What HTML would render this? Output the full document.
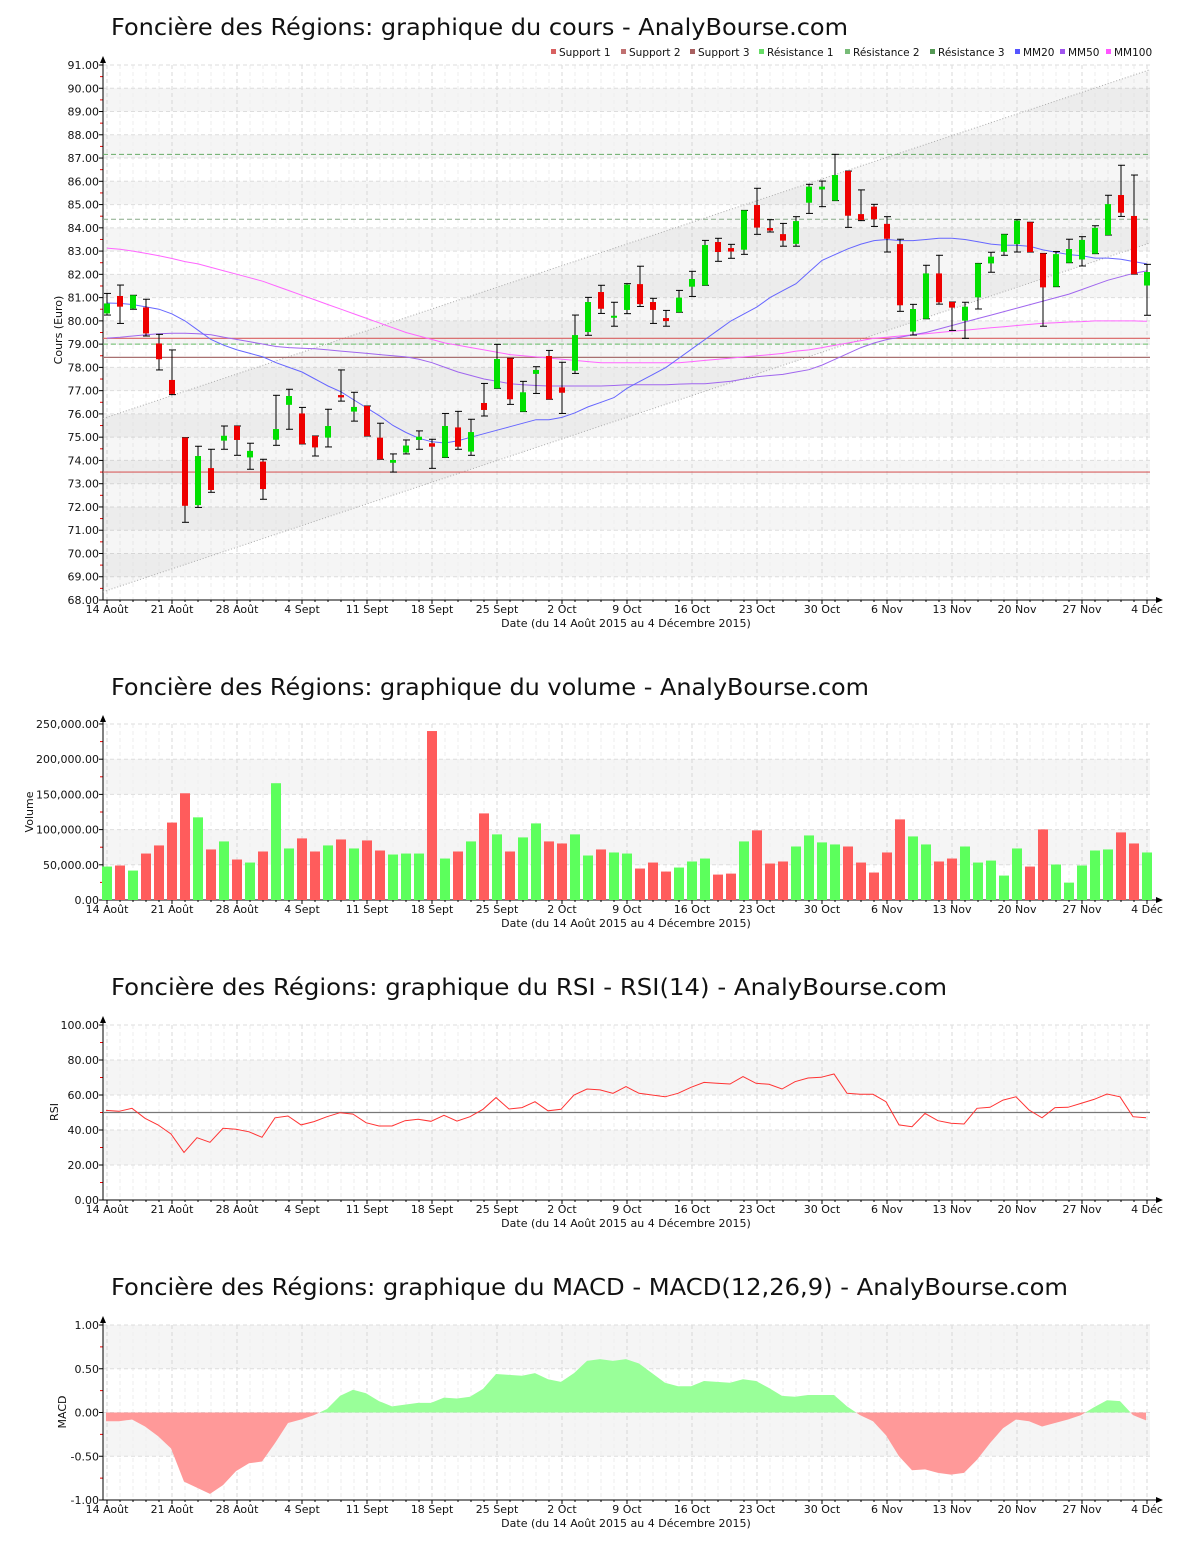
<!DOCTYPE html>
<html><head><meta charset="utf-8"><title>Foncière des Régions - AnalyBourse</title>
<style>
html,body{margin:0;padding:0;background:#fff;}
svg{display:block;font-family:"DejaVu Sans","Liberation Sans",sans-serif;}
</style></head>
<body>
<svg id="chart" width="1200" height="1550" viewBox="0 0 1200 1550" xmlns="http://www.w3.org/2000/svg"></svg>
<script>
// ---------- DATA ----------
const dateLabels = ["14 Août","21 Août","28 Août","4 Sept","11 Sept","18 Sept","25 Sept","2 Oct","9 Oct","16 Oct","23 Oct","30 Oct","6 Nov","13 Nov","20 Nov","27 Nov","4 Déc"];
const openP = [80.32,81.07,80.53,80.58,79.03,77.46,74.98,72.08,73.67,74.85,75.48,74.13,73.95,74.89,76.39,76.02,75.05,74.98,76.81,76.10,76.34,74.98,73.90,74.34,74.88,74.74,74.13,75.42,74.38,76.47,77.10,78.39,76.10,77.72,78.49,77.14,77.86,79.52,81.24,80.14,80.47,81.58,80.81,80.12,80.37,81.47,81.53,83.39,83.13,83.06,84.98,83.99,83.73,83.31,85.08,85.65,85.17,86.44,84.59,84.91,84.17,83.30,79.54,80.09,82.04,80.81,80.01,81.01,82.47,82.97,83.30,84.24,82.90,81.47,82.50,82.64,82.89,83.69,85.41,84.51,81.52];
const closeP = [80.75,80.61,81.10,79.46,78.35,76.86,72.05,74.19,72.73,75.06,74.88,74.41,72.77,75.35,76.77,74.71,74.56,75.48,76.71,76.30,75.05,74.05,74.02,74.64,75.02,74.59,75.48,74.59,75.22,76.17,78.36,76.63,76.93,77.89,76.63,76.91,79.39,80.81,80.52,80.22,81.56,80.72,80.47,79.99,81.00,81.80,83.26,82.96,82.98,84.75,84.01,83.88,83.45,84.29,85.77,85.77,86.27,84.52,84.34,84.37,83.53,80.67,80.51,82.04,80.80,80.57,80.61,82.47,82.76,83.72,84.31,82.96,81.44,82.87,83.09,83.48,84.00,85.02,84.65,82.01,82.10];
const highP = [81.18,81.54,81.10,80.93,79.42,78.75,74.98,74.61,74.48,75.48,75.48,74.74,74.05,76.80,77.06,76.28,75.05,76.20,77.89,76.93,76.34,75.60,74.28,74.88,75.27,74.91,76.02,76.11,75.77,77.31,78.99,78.39,77.40,78.03,78.73,78.22,80.25,81.01,81.53,80.80,81.60,82.35,80.97,80.45,81.31,82.13,83.46,83.55,83.29,84.75,85.70,84.35,84.19,84.48,85.87,86.01,87.16,86.44,85.63,85.01,84.48,83.51,80.71,82.39,82.82,80.81,80.80,82.47,82.95,83.72,84.35,84.24,82.90,82.98,83.51,83.62,84.09,85.40,86.69,86.27,82.43];
const lowP = [80.25,79.89,80.50,79.35,77.89,76.83,71.34,71.98,72.63,74.48,74.22,73.62,72.33,74.65,75.34,74.71,74.19,74.58,76.55,75.69,75.05,74.05,73.50,74.28,74.48,73.66,74.13,74.48,74.22,75.91,77.10,76.41,76.10,76.88,76.63,76.02,77.74,79.38,80.32,79.77,80.31,80.62,79.89,79.77,80.37,81.05,81.53,82.56,82.69,82.86,83.72,83.82,83.21,83.21,84.62,84.91,85.17,84.02,84.31,84.06,82.96,80.41,79.39,80.09,80.72,79.59,79.25,80.51,82.09,82.82,82.96,82.96,79.77,81.47,82.50,82.36,82.89,83.69,84.49,82.01,80.24];
const mm20 = [80.77,80.75,80.7,80.6,80.5,80.3,80.0,79.6,79.2,78.95,78.75,78.6,78.45,78.2,78.0,77.8,77.5,77.2,76.95,76.6,76.25,75.9,75.5,75.2,74.95,74.8,74.75,74.85,75.0,75.15,75.3,75.45,75.6,75.75,75.75,75.85,76.05,76.3,76.5,76.7,77.1,77.4,77.7,78.0,78.4,78.8,79.2,79.6,80.0,80.3,80.6,81.0,81.3,81.6,82.1,82.6,82.85,83.1,83.3,83.45,83.5,83.45,83.45,83.5,83.55,83.55,83.5,83.4,83.3,83.25,83.25,83.2,83.05,82.95,82.85,82.8,82.7,82.7,82.65,82.55,82.45];
const mm50 = [79.26,79.3,79.35,79.4,79.45,79.47,79.47,79.45,79.4,79.3,79.2,79.1,79.0,78.9,78.85,78.82,78.8,78.75,78.7,78.65,78.6,78.55,78.5,78.45,78.35,78.2,78.0,77.8,77.65,77.5,77.4,77.3,77.25,77.22,77.2,77.2,77.2,77.2,77.2,77.22,77.25,77.25,77.25,77.25,77.28,77.3,77.3,77.35,77.4,77.5,77.6,77.65,77.7,77.8,77.9,78.1,78.35,78.6,78.85,79.05,79.2,79.3,79.4,79.5,79.65,79.8,79.95,80.1,80.25,80.4,80.55,80.7,80.85,81.0,81.15,81.35,81.55,81.75,81.9,82.05,82.15];
const mm100 = [83.13,83.08,83.0,82.9,82.8,82.68,82.55,82.45,82.3,82.15,82.0,81.85,81.7,81.5,81.3,81.1,80.9,80.7,80.5,80.3,80.1,79.9,79.7,79.5,79.35,79.2,79.05,78.95,78.85,78.75,78.65,78.55,78.5,78.45,78.4,78.35,78.3,78.25,78.2,78.2,78.2,78.2,78.2,78.2,78.2,78.25,78.3,78.35,78.4,78.45,78.5,78.55,78.6,78.7,78.75,78.85,78.95,79.05,79.15,79.25,79.3,79.35,79.4,79.45,79.5,79.55,79.6,79.65,79.7,79.75,79.8,79.85,79.9,79.92,79.95,79.97,80.0,80.0,80.0,80.0,79.98];
const supportLevels = [73.5, 79.25, 78.43];
const resistanceLevels = [79.0, 84.37, 87.16];
const channelUpper = [75.8, 90.8];
const channelLower = [68.35, 83.35];
const priceTicks = [68,69,70,71,72,73,74,75,76,77,78,79,80,81,82,83,84,85,86,87,88,89,90,91];
const volumes = [47500,49000,41800,66000,77500,110000,151600,117400,71800,83200,57500,53200,68900,165900,73200,87500,68900,77500,86000,73200,84600,70300,64600,66000,66000,240000,58900,68900,83200,123000,93200,68900,88900,108800,83200,80300,93200,63200,71800,67500,66000,44700,53200,40400,46100,54700,58900,36100,37500,83200,98900,51800,54700,76000,91700,81800,78900,76000,53200,39000,67500,114500,90300,78900,54700,58900,76000,53200,56000,34700,73200,47500,100300,50400,24700,49000,70300,71800,96000,80300,67500];
const volumeTicks = [0,50000,100000,150000,200000,250000];
const rsiValues = [51.2,50.7,52.4,46.7,42.9,37.7,27.2,35.6,33.0,41.0,40.4,39.0,35.8,47.0,48.0,42.9,44.8,47.6,49.9,49.1,44.2,42.3,42.3,45.3,46.1,45.0,48.4,45.1,47.6,51.8,58.5,52.0,52.8,56.2,51.0,51.8,60.0,63.4,62.9,61.0,64.8,61.0,60.0,59.0,61.0,64.4,67.2,66.7,66.3,70.5,66.7,66.1,63.4,67.6,69.7,70.1,72.0,61.0,60.4,60.4,56.2,42.9,41.9,49.5,45.3,43.8,43.4,52.4,53.0,57.1,59.0,51.4,47.0,52.8,53.0,55.2,57.5,60.6,59.0,47.6,47.0];
const rsiTicks = [0,20,40,60,80,100];
const macdValues = [-0.10,-0.10,-0.08,-0.16,-0.27,-0.41,-0.79,-0.86,-0.93,-0.83,-0.67,-0.58,-0.56,-0.35,-0.12,-0.08,-0.03,0.04,0.19,0.26,0.22,0.13,0.07,0.09,0.11,0.11,0.17,0.16,0.18,0.27,0.44,0.43,0.42,0.45,0.38,0.35,0.45,0.59,0.61,0.59,0.61,0.56,0.45,0.34,0.30,0.30,0.36,0.35,0.34,0.38,0.36,0.28,0.19,0.18,0.20,0.20,0.20,0.07,-0.03,-0.10,-0.26,-0.50,-0.66,-0.65,-0.69,-0.71,-0.69,-0.54,-0.35,-0.18,-0.08,-0.10,-0.16,-0.12,-0.08,-0.03,0.06,0.14,0.13,-0.03,-0.09];
const macdTicks = [-1,-0.5,0,0.5,1];

// ---------- DRAWING ----------
const NS = 'http://www.w3.org/2000/svg';
const svg = document.getElementById('chart');
function mk(tag, attrs, parent){
  const e = document.createElementNS(NS, tag);
  for (const k in attrs) e.setAttribute(k, attrs[k]);
  (parent || svg).appendChild(e);
  return e;
}
const PL = 103, PR = 1150;
function xc(i){ return 107 + 13 * i; }
function xo(i){ return 106 + 13 * i; }
function scaleY(vmin, vmax, ybot, ytop){ return v => ybot - (v - vmin) / (vmax - vmin) * (ybot - ytop); }
function fmt2(v){ return v.toFixed(2); }
function fmtVol(v){ return v.toLocaleString('en-US',{minimumFractionDigits:2,maximumFractionDigits:2}); }

function frame(g, opt){
  const y = opt.y;
  // bands
  opt.bands.forEach(b => {
    const r = mk('rect', {x:PL, y:y(b[1]), width:PR-PL, height:y(b[0])-y(b[1]), fill:'#f5f5f5'}, g);
    
    
  });
  // vertical grid
  for (let i = 0; i <= 80; i++){
    const major = i % 5 === 0;
    const l = mk('line', {x1:xc(i), x2:xc(i), y1:opt.top, y2:opt.bot, stroke: major ? '#d8d8d8' : '#eeeeee', 'stroke-dasharray':'4,3', 'stroke-width':1}, g);
    
    
  }
  // horizontal grid + labels
  opt.ticks.forEach(t => {
    const l = mk('line', {x1:PL, x2:PR, y1:y(t), y2:y(t), stroke:'#dddddd', 'stroke-dasharray':'4,3'}, g);
    
    
    const tk = mk('line', {x1:PL-4, x2:PL, y1:y(t), y2:y(t), stroke:'#000'}, g);
    
    
    const tx = mk('text', {x:PL-4, y:y(t)+4, 'font-size':11, 'text-anchor':'end', fill:'#111'}, g);
    tx.textContent = opt.fmt(t);
    
    
  });
  for (let k = 0; k < opt.ticks.length - 1; k++){
    const m = (opt.ticks[k] + opt.ticks[k+1]) / 2;
    const tk = mk('line', {x1:PL-3, x2:PL, y1:y(m), y2:y(m), stroke:'#e00'}, g);
    
    
  }
  // axes
  const ya = mk('line', {x1:PL, x2:PL, y1:opt.bot, y2:opt.top-6, stroke:'#000'}, g);
  
  
  const yar = mk('path', {d:`M${PL-3},${opt.top-2} L${PL},${opt.top-9} L${PL+3},${opt.top-2} Z`, fill:'#000'}, g);
  
  
  const xa = mk('line', {x1:PL, x2:1158, y1:opt.bot, y2:opt.bot, stroke:'#000'}, g);
  
  
  const xar = mk('path', {d:`M1156,${opt.bot-3} L1163,${opt.bot} L1156,${opt.bot+3} Z`, fill:'#000'}, g);
  
  
  for (let i = 0; i <= 80; i++){
    const tk = mk('line', {x1:xc(i), x2:xc(i), y1:opt.bot, y2:opt.bot+(i%5===0?4:2), stroke:'#000'}, g);
    
    
  }
  dateLabels.forEach((d, k) => {
    const tx = mk('text', {x:xc(k*5), y:opt.bot+13, 'font-size':11, 'text-anchor':'middle', fill:'#111'}, g);
    tx.textContent = d;
    
    
  });
  const xt = mk('text', {x:626, y:opt.bot+27, 'font-size':11, 'text-anchor':'middle', fill:'#111'}, g);
  xt.textContent = 'Date (du 14 Août 2015 au 4 Décembre 2015)';
  
  
  const yt = mk('text', {x:0, y:0, 'font-size':11, 'text-anchor':'middle', fill:'#111', transform:`translate(${opt.ytx},${opt.ytY}) rotate(-90)`}, g);
  yt.textContent = opt.ytitle;
  
  
  const tt = mk('text', {x:111, y:opt.titleY, 'font-size':23, fill:'#111', textLength:opt.titleW, lengthAdjust:'spacingAndGlyphs'}, g);
  tt.textContent = opt.title;
  
  
}

// ===== PRICE CHART =====
const gP = mk('g', {});


const yP = scaleY(68, 91, 600, 65);
const priceBands = [];
for (let v = 69; v < 91; v += 2) priceBands.push([v, v+1]);
frame(gP, {y:yP, top:65, bot:600, ticks:priceTicks, fmt:fmt2, bands:priceBands, ytitle:'Cours (Euro)', ytx:62, ytY:330, title:'Foncière des Régions: graphique du cours - AnalyBourse.com', titleY:35, titleW:737});

// channel
const chPoly = mk('polygon', {points:`${PL},${yP(channelUpper[0])} ${PR},${yP(channelUpper[1])} ${PR},${yP(channelLower[1])} ${PL},${yP(channelLower[0])}`, fill:'rgba(0,0,0,0.035)'}, gP);


[channelUpper, channelLower].forEach(c => {
  const l = mk('line', {x1:PL, y1:yP(c[0]), x2:PR, y2:yP(c[1]), stroke:'#aaa', 'stroke-dasharray':'1,2'}, gP);
  
  
});
// support / resistance
const supColors = ['#d86060','#d86060','#a87070'];
supportLevels.forEach((v, k) => {
  const l = mk('line', {x1:PL, x2:PR, y1:yP(v), y2:yP(v), stroke:supColors[k], 'stroke-width':1.2}, gP);
  
  
});
const resColors = ['#66bb66','#88aa88','#66aa66'];
resistanceLevels.forEach((v, k) => {
  const l = mk('line', {x1:PL, x2:PR, y1:yP(v), y2:yP(v), stroke:resColors[k], 'stroke-dasharray':'5,3', 'stroke-width':1}, gP);
  
  
});
// moving averages
[[mm100,'#ff66ff','mm100-line'],[mm50,'#a066ee','mm50-line'],[mm20,'#6666ff','mm20-line']].forEach(s => {
  const pts = s[0].map((v,i) => `${xc(i)},${yP(v).toFixed(1)}`).join(' ');
  const p = mk('polyline', {points:pts, fill:'none', stroke:s[1], 'stroke-width':1}, gP);
  
  
});
// candles
openP.forEach((o, i) => {
  const c = closeP[i], up = c >= o, x = xc(i);
  const w = mk('line', {x1:x, x2:x, y1:yP(highP[i]), y2:yP(lowP[i]), stroke:'#000'}, gP);
  
  
  const ct = mk('line', {x1:x-3, x2:x+4, y1:yP(highP[i]), y2:yP(highP[i]), stroke:'#000'}, gP);
  
  
  const cb = mk('line', {x1:x-3, x2:x+4, y1:yP(lowP[i]), y2:yP(lowP[i]), stroke:'#000'}, gP);
  
  
  const top = yP(Math.max(o,c)), h = Math.max(2, yP(Math.min(o,c)) - top);
  const b = mk('rect', {x:x-3, y:top, width:6, height:h, fill: up ? '#00e000' : '#ee0000'}, gP);
  
  
});
// legend
const legendItems = [['Support 1','#d86060',551],['Support 2','#c07070',621],['Support 3','#a86060',690],['Résistance 1','#66dd66',759],['Résistance 2','#77bb77',845],['Résistance 3','#559955',930],['MM20','#5555ff',1015],['MM50','#a055ee',1060],['MM100','#ff55ff',1106]];
legendItems.forEach(it => {
  const s = mk('rect', {x:it[2], y:49, width:5, height:5, fill:it[1]}, gP);
  
  
  const t = mk('text', {x:it[2]+8, y:56, 'font-size':10.5, fill:'#111'}, gP);
  t.textContent = it[0];
  
  
});

// ===== VOLUME CHART =====
const gV = mk('g', {});


const yV = scaleY(0, 250000, 900, 724);
frame(gV, {y:yV, top:724, bot:900, ticks:volumeTicks, fmt:fmtVol, bands:[[50000,100000],[150000,200000]], ytitle:'Volume', ytx:33, ytY:812, title:'Foncière des Régions: graphique du volume - AnalyBourse.com', titleY:695, titleW:758});
volumes.forEach((v, i) => {
  const up = closeP[i] >= openP[i];
  const r = mk('rect', {x:xc(i)-5, y:yV(v), width:10, height:yV(0)-yV(v), fill: up ? '#5cff5c' : '#ff5c5c'}, gV);
  
  
});

// ===== RSI CHART =====
const gR = mk('g', {});


const yR = scaleY(0, 100, 1200, 1025);
frame(gR, {y:yR, top:1025, bot:1200, ticks:rsiTicks, fmt:fmt2, bands:[[20,40],[60,80]], ytitle:'RSI', ytx:58, ytY:1112, title:'Foncière des Régions: graphique du RSI - RSI(14) - AnalyBourse.com', titleY:995, titleW:836});
const midR = mk('line', {x1:PL, x2:PR, y1:yR(50), y2:yR(50), stroke:'#777', 'stroke-width':1.2}, gR);


const rsiLine = mk('polyline', {points: rsiValues.map((v,i) => `${xo(i)},${yR(v).toFixed(1)}`).join(' '), fill:'none', stroke:'#ff3333', 'stroke-width':1}, gR);



// ===== MACD CHART =====
const gM = mk('g', {});


const yM = scaleY(-1, 1, 1500, 1325);
frame(gM, {y:yM, top:1325, bot:1500, ticks:macdTicks, fmt:fmt2, bands:[[-0.5,0],[0.5,1]], ytitle:'MACD', ytx:66, ytY:1412, title:'Foncière des Régions: graphique du MACD - MACD(12,26,9) - AnalyBourse.com', titleY:1295, titleW:957});
const defs = mk('defs', {});
const cpPos = mk('clipPath', {id:'macdPos'}, defs);
mk('rect', {x:0, y:0, width:1200, height:yM(0)}, cpPos);
const cpNeg = mk('clipPath', {id:'macdNeg'}, defs);
mk('rect', {x:0, y:yM(0), width:1200, height:200}, cpNeg);
const areaPts = `${xo(0)},${yM(0)} ` + macdValues.map((v,i) => `${xo(i)},${yM(v).toFixed(1)}`).join(' ') + ` ${xo(macdValues.length-1)},${yM(0)}`;
const posA = mk('polygon', {points:areaPts, fill:'#99ff99', 'clip-path':'url(#macdPos)'}, gM);


const negA = mk('polygon', {points:areaPts, fill:'#ff9999', 'clip-path':'url(#macdNeg)'}, gM);


</script>
</body></html>
